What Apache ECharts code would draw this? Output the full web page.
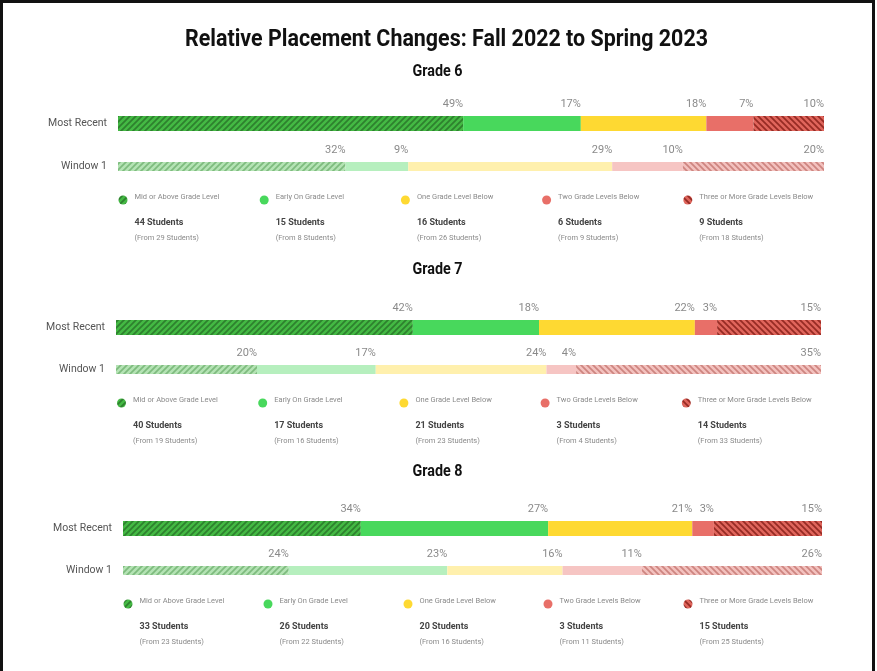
<!DOCTYPE html>
<html>
<head>
<meta charset="utf-8">
<script src="https://cdn.jsdelivr.net/npm/echarts@6/dist/echarts.min.js"></script>
<style>
  html, body { margin: 0; padding: 0; background: #fff; }
  #main { position: absolute; left: 0; top: 0; width: 877px; height: 671px; }
  #frame { position: absolute; left: 0; top: 0; width: 869px; height: 700px;
           border: 3px solid #111; border-bottom: none; pointer-events: none; }
</style>
</head>
<body>
<div id="main"></div>
<div id="frame"></div>
<script>
// 数据
const chartTitle = 'Relative Placement Changes: Fall 2022 to Spring 2023';
const grades = ['Grade 6', 'Grade 7', 'Grade 8'];
const rows = ['Most Recent', 'Window 1'];
const levels = ['Mid or Above Grade Level', 'Early On Grade Level', 'One Grade Level Below',
  'Two Grade Levels Below', 'Three or More Grade Levels Below'];
// 学生人数 (Most Recent / Window 1)
const g6Recent = [44, 15, 16, 6, 9];
const g6Window = [29, 8, 26, 9, 18];
const g7Recent = [40, 17, 21, 3, 14];
const g7Window = [19, 16, 23, 4, 33];
const g8Recent = [33, 26, 20, 3, 15];
const g8Window = [23, 22, 16, 11, 25];

const gradeData = [[g6Recent, g6Window], [g7Recent, g7Window], [g8Recent, g8Window]];

// 布局
const layout = [
  { left: 118, right: 53, title: 72, recent: 116, win: 162, legendY: 200, cx: 123, step: 141.2 },
  { left: 116, right: 56, title: 270, recent: 320, win: 365, legendY: 403, cx: 121.5, step: 141.2 },
  { left: 123, right: 55, title: 472, recent: 521, win: 566, legendY: 604, cx: 128, step: 140 }
];
const recentH = 15;
const winH = 9;

const baseColors = ['#44b944', '#48d85c', '#fed932', '#e86f68', '#e0655c'];
const stripeColors = { 0: '#2e802e', 4: '#962b24' };

function lighten(hex, a) {
  let r = parseInt(hex.substr(1, 2), 16), g = parseInt(hex.substr(3, 2), 16), b = parseInt(hex.substr(5, 2), 16);
  r = Math.round(r * a + 255 * (1 - a));
  g = Math.round(g * a + 255 * (1 - a));
  b = Math.round(b * a + 255 * (1 - a));
  return 'rgb(' + r + ',' + g + ',' + b + ')';
}

// 斜线填充
function hatch(base, stripe, dir, alpha) {
  let size = 6;
  let c = document.createElement('canvas');
  c.width = size; c.height = size;
  let ctx = c.getContext('2d');
  ctx.fillStyle = '#fff';
  ctx.fillRect(0, 0, size, size);
  ctx.globalAlpha = alpha;
  ctx.fillStyle = base;
  ctx.fillRect(0, 0, size, size);
  ctx.strokeStyle = stripe;
  ctx.lineWidth = 1.7;
  ctx.beginPath();
  if (dir > 0) {
    ctx.moveTo(-1, size + 1); ctx.lineTo(size + 1, -1);
    ctx.moveTo(-1, 1); ctx.lineTo(1, -1);
    ctx.moveTo(size - 1, size + 1); ctx.lineTo(size + 1, size - 1);
  } else {
    ctx.moveTo(-1, -1); ctx.lineTo(size + 1, size + 1);
    ctx.moveTo(size - 1, -1); ctx.lineTo(size + 1, 1);
    ctx.moveTo(-1, size - 1); ctx.lineTo(1, size + 1);
  }
  ctx.stroke();
  return { image: c, repeat: 'repeat' };
}

function levelColor(k, alpha) {
  if (k === 0) return hatch(baseColors[0], stripeColors[0], 1, alpha);
  if (k === 4) return hatch(baseColors[4], stripeColors[4], -1, alpha);
  return alpha === 1 ? baseColors[k] : lighten(baseColors[k], alpha);
}

// 窄体标题: 用 scaleX 压缩
let measureCtx = document.createElement('canvas').getContext('2d');
function narrowText(text, x, y, font, width) {
  measureCtx.font = font;
  let w = measureCtx.measureText(text).width;
  return {
    type: 'text', silent: true, x: x, y: y, scaleX: width / w, scaleY: 1,
    style: { text: text, fill: '#111', align: 'center', verticalAlign: 'middle', font: font }
  };
}

let grid = [], xAxis = [], yAxis = [], series = [], graphic = [];

graphic.push(narrowText(chartTitle, 446.5, 40, 'bold 24px Roboto', 523));

for (let g = 0; g < grades.length; g++) {
  let L = layout[g];
  graphic.push(narrowText(grades[g], 437.5, L.title, 'bold 16px Roboto', 50));
  for (let r = 0; r < rows.length; r++) {
    let vals = gradeData[g][r];
    let total = vals.reduce((a, b) => a + b, 0);
    let idx = grid.length;
    grid.push({ left: L.left, right: L.right, top: r === 0 ? L.recent : L.win, height: r === 0 ? recentH : winH });
    xAxis.push({ type: 'value', gridIndex: idx, min: 0, max: total, show: false });
    yAxis.push({
      type: 'category', gridIndex: idx, data: [rows[r]],
      axisLine: { show: false }, axisTick: { show: false }, splitLine: { show: false },
      axisLabel: { color: '#555', fontSize: 10.5, margin: 11, fontFamily: 'Roboto' }
    });
    let alpha = r === 0 ? 1 : 0.4;
    for (let k = 0; k < levels.length; k++) {
      series.push({
        type: 'bar', name: levels[k], xAxisIndex: idx, yAxisIndex: idx,
        stack: 's' + idx, barWidth: '100%', silent: true,
        data: [vals[k]],
        itemStyle: { color: levelColor(k, alpha) },
        label: {
          show: true, position: ['100%', -6], align: 'right', verticalAlign: 'bottom',
          color: '#8a8a8a', fontSize: 11, fontFamily: 'Roboto',
          formatter: function (p) { return Math.round(p.value / total * 100) + '%'; }
        }
      });
    }
  }
  // 图例
  let recent = gradeData[g][0], win = gradeData[g][1];
  for (let k = 0; k < levels.length; k++) {
    let cx = L.cx + k * L.step;
    graphic.push({
      type: 'circle', silent: true, shape: { cx: cx, cy: L.legendY, r: 4.5 },
      style: { fill: levelColor(k, 1) }
    });
    graphic.push({
      type: 'text', silent: true, x: cx + 11.5, y: L.legendY - 3,
      style: { text: levels[k], fill: '#8a8a8a', verticalAlign: 'middle', font: '7.5px Roboto' }
    });
    graphic.push({
      type: 'text', silent: true, x: cx + 11.5, y: L.legendY + 23,
      style: { text: recent[k] + ' Students', fill: '#444', verticalAlign: 'middle', font: 'bold 9px Roboto' }
    });
    graphic.push({
      type: 'text', silent: true, x: cx + 11.5, y: L.legendY + 38,
      style: { text: '(From ' + win[k] + ' Students)', fill: '#8a8a8a', verticalAlign: 'middle', font: '7.5px Roboto' }
    });
  }
}

let chart = echarts.init(document.getElementById('main'), null, { renderer: 'canvas' });
chart.setOption({
  backgroundColor: '#fff',
  animation: false,
  grid: grid,
  xAxis: xAxis,
  yAxis: yAxis,
  series: series,
  graphic: graphic
});
</script>
</body>
</html>
